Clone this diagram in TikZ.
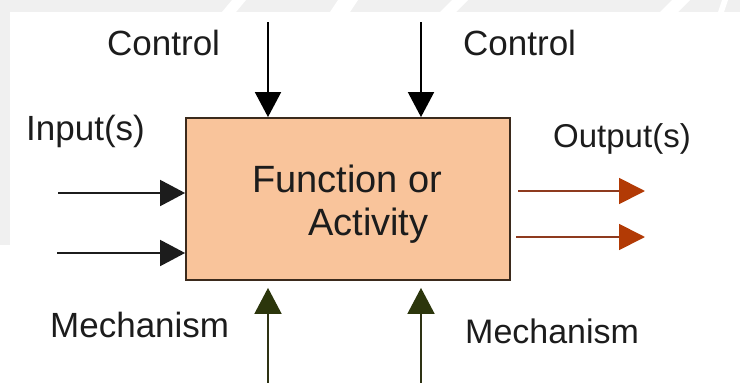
\documentclass[tikz,border=0pt]{standalone}
\usepackage{fontspec}
\setmainfont{Liberation Sans}
\usetikzlibrary{arrows.meta}
\definecolor{boxfill}{HTML}{F9C49B}
\definecolor{boxline}{HTML}{3B2A1C}
\definecolor{inkdark}{HTML}{1C1C1C}
\definecolor{outline}{HTML}{8E3A1E}
\definecolor{outhead}{HTML}{B23A05}
\definecolor{mechline}{HTML}{2E3314}
\definecolor{mechhead}{HTML}{2C360C}
\definecolor{paper}{HTML}{F0F0F0}
\begin{document}
\begin{tikzpicture}[x=1pt,y=-1pt,
  label/.style={font=\fontsize{35}{40}\selectfont, text=inkdark, inner sep=0pt, anchor=base west},
  boxtext/.style={font=\fontsize{38}{44}\selectfont, text=inkdark, inner sep=0pt, anchor=base west},
  activity/.style={draw=boxline, line width=1.8pt, fill=boxfill, minimum width=324pt, minimum height=162pt, inner sep=0pt},
  tip/.style={-{Triangle[length=25pt,width=26pt]}, line width=1.8pt},
  ctrl/.style={tip, draw=black},
  inarrow/.style={tip, draw=inkdark},
  outarrow/.style={draw=outline, line width=1.8pt, -{Triangle[length=26pt,width=26pt,color=outhead]}},
  mecharrow/.style={draw=mechline, line width=1.8pt, -{Triangle[length=26pt,width=27pt,color=mechhead]}}
]
\useasboundingbox (0,0) rectangle (740,383);

% page backdrop: faint grey band along the top and left edges
\fill[paper] (0,0) rectangle (740,12);
\fill[paper] (0,0) rectangle (10,245);
\fill[white] (222,12) -- (232,0) -- (246,0) -- (236,12) -- cycle;
\fill[white] (330,12) -- (338,0) -- (358,0) -- (350,12) -- cycle;
\fill[white] (440,12) -- (452,0) -- (468,0) -- (456,12) -- cycle;
\fill[white] (660,12) -- (672,0) -- (690,0) -- (678,12) -- cycle;
\fill[white] (718,12) -- (722,0) -- (728,0) -- (724,12) -- cycle;

% the activity box
\node[activity] (fn) at (348,199) {};
\node[boxtext] (fnA) at (252,192) {Function or};
\node[boxtext] (fnB) at (308,235) {Activity};

% labels
\node[label] (ctlA) at (107,55) {Control};
\node[label] (ctlB) at (463,55) {Control};
\node[label] (inp) at (26,140) {Input(s)};
\node[label, font=\fontsize{33}{40}\selectfont] (outp) at (553,147) {Output(s)};
\node[label] (mechA) at (50,337) {Mechanism};
\node[label, font=\fontsize{34}{40}\selectfont] (mechB) at (465,343) {Mechanism};

% free ends of the connectors
\coordinate (c1) at (268,22);
\coordinate (c2) at (421,22);
\coordinate (i1) at (58,193);
\coordinate (i2) at (57,253);
\coordinate (o1s) at (518,191);
\coordinate (o1e) at (645,191);
\coordinate (o2s) at (516,237);
\coordinate (o2e) at (645,237);
\coordinate (m1) at (268,383);
\coordinate (m2) at (421,383);

% controls (top)
\draw[ctrl] (c1) -- (c1 |- fn.north);
\draw[ctrl] (c2) -- (c2 |- fn.north);
% inputs (left)
\draw[inarrow] (i1) -- (i1 -| fn.west);
\draw[inarrow] (i2) -- (i2 -| fn.west);
% outputs (right)
\draw[outarrow] (o1s) -- (o1e);
\draw[outarrow] (o2s) -- (o2e);
% mechanisms (bottom)
\draw[mecharrow] (m1) -- ([yshift=-7pt]m1 |- fn.south);
\draw[mecharrow] (m2) -- ([yshift=-7pt]m2 |- fn.south);
\end{tikzpicture}
\end{document}
